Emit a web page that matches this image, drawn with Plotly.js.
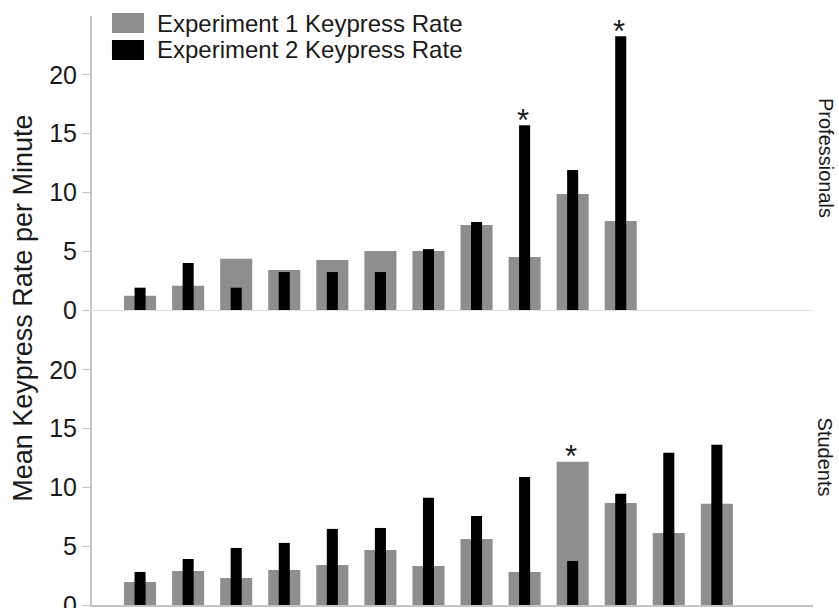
<!DOCTYPE html>
<html>
<head>
<meta charset="utf-8">
<script src="https://cdn.plot.ly/plotly-3.0.1.min.js"></script>
<style>
  html, body { margin: 0; padding: 0; background: #ffffff; }
  #chart { width: 839px; height: 608px; }
</style>
</head>
<body>
<div id="chart"></div>
<script>
// Unlabelled participant groups along the x axis
const groups = [1, 2, 3, 4, 5, 6, 7, 8, 9, 10, 11, 12, 13];

// Series names
const seriesNames = ['Experiment 1 Keypress Rate', 'Experiment 2 Keypress Rate'];
const panelNames = ['Professionals', 'Students'];

// Professionals: mean keypress rate per minute
const proExp1 = [1.22, 2.07, 4.36, 3.40, 4.25, 5.01, 5.01, 7.22, 4.50, 9.86, 7.56];
const proExp2 = [1.90, 4.00, 1.90, 3.23, 3.23, 3.23, 5.18, 7.48, 15.72, 11.90, 23.28];

// Students: mean keypress rate per minute
const stuExp1 = [1.96, 2.89, 2.30, 2.98, 3.40, 4.68, 3.32, 5.62, 2.81, 12.17, 8.68, 6.13, 8.60];
const stuExp2 = [2.81, 3.91, 4.85, 5.28, 6.47, 6.55, 9.11, 7.57, 10.89, 3.74, 9.45, 12.94, 13.62];

// Groups marked as significant (asterisk)
const proStarred = [9, 11];
const stuStarred = [10];

// Y axis ticks
const yTicks = [0, 5, 10, 15, 20];

const FONT = 'Liberation Sans, Arial, Helvetica, sans-serif';
const TEXT = '#1a1a1a';
const GRAY = '#8e8e8e';
const BLACK = '#000000';

const proX = groups.slice(0, proExp1.length);
const stuX = groups.slice(0, stuExp1.length);

const traces = [
  { type: 'bar', x: stuX, y: stuExp1, xaxis: 'x', yaxis: 'y', width: 0.667,
    marker: { color: GRAY }, name: seriesNames[0], showlegend: false },
  { type: 'bar', x: stuX, y: stuExp2, xaxis: 'x', yaxis: 'y', width: 0.23,
    marker: { color: BLACK }, name: seriesNames[1], showlegend: false },
  { type: 'bar', x: proX, y: proExp1, xaxis: 'x2', yaxis: 'y2', width: 0.667,
    marker: { color: GRAY }, name: seriesNames[0], showlegend: false },
  { type: 'bar', x: proX, y: proExp2, xaxis: 'x2', yaxis: 'y2', width: 0.23,
    marker: { color: BLACK }, name: seriesNames[1], showlegend: false }
];

function starNotes(starred, a, b, xref, yref) {
  return starred.map(g => ({
    x: g, y: Math.max(a[g - 1], b[g - 1]), xref: xref, yref: yref,
    text: '*', showarrow: false, yanchor: 'middle', yshift: 5, xshift: -2,
    font: { family: FONT, size: 31, color: TEXT }
  }));
}

const yAxisCommon = {
  range: [0, 25], tickvals: yTicks, ticktext: yTicks.map(String),
  ticks: 'outside', ticklen: 8, tickwidth: 1, tickcolor: '#c4c4c4',
  showline: true, linecolor: '#c4c4c4', linewidth: 2,
  showgrid: false, zeroline: false, ticklabeloverflow: 'allow',
  tickfont: { family: FONT, size: 25, color: TEXT }
};

const xAxisCommon = {
  range: [0, 15], showticklabels: false, ticks: '',
  showgrid: false, zeroline: false, showline: true
};

// Legend swatches and labels (paper coordinates)
const legendShapes = [
  { type: 'rect', xref: 'paper', yref: 'paper', x0: 0.0277, x1: 0.0721, y0: 0.9711, y1: 1.0051,
    fillcolor: GRAY, line: { width: 0 } },
  { type: 'rect', xref: 'paper', yref: 'paper', x0: 0.0277, x1: 0.0721, y0: 0.9253, y1: 0.9593,
    fillcolor: BLACK, line: { width: 0 } }
];
const legendNotes = seriesNames.map((n, i) => ({
  text: n, xref: 'paper', yref: 'paper', x: 0.0874, y: i === 0 ? 0.9881 : 0.9423,
  xanchor: 'left', yanchor: 'middle', showarrow: false,
  font: { family: FONT, size: 24, color: TEXT }
}));

const layout = {
  width: 839, height: 608,
  margin: { l: 92, r: 26, t: 16, b: 3 },
  paper_bgcolor: '#ffffff', plot_bgcolor: '#ffffff',
  barmode: 'overlay', showlegend: false,
  font: { family: FONT, color: TEXT },
  xaxis: Object.assign({}, xAxisCommon, { anchor: 'y', linecolor: '#c4c4c4', linewidth: 2 }),
  yaxis: Object.assign({}, yAxisCommon, { domain: [0, 0.4992], anchor: 'x' }),
  xaxis2: Object.assign({}, xAxisCommon, { anchor: 'y2', linecolor: '#e2e2e2', linewidth: 1 }),
  yaxis2: Object.assign({}, yAxisCommon, { domain: [0.5008, 1], anchor: 'x2' }),
  shapes: legendShapes,
  annotations: [].concat(
    starNotes(proStarred, proExp1, proExp2, 'x2', 'y2'),
    starNotes(stuStarred, stuExp1, stuExp2, 'x', 'y'),
    legendNotes,
    [
      { text: 'Mean Keypress Rate per Minute', xref: 'paper', yref: 'paper',
        x: -0.0957, y: 0.503, textangle: -90, showarrow: false,
        xanchor: 'center', yanchor: 'middle',
        font: { family: FONT, size: 27, color: TEXT } },
      { text: panelNames[0], xref: 'paper', yref: 'paper', x: 1.018, y: 0.759,
        textangle: 90, showarrow: false, xanchor: 'center', yanchor: 'middle',
        font: { family: FONT, size: 20, color: TEXT } },
      { text: panelNames[1], xref: 'paper', yref: 'paper', x: 1.018, y: 0.2504,
        textangle: 90, showarrow: false, xanchor: 'center', yanchor: 'middle',
        font: { family: FONT, size: 20, color: TEXT } }
    ]
  )
};

Plotly.newPlot('chart', traces, layout, { staticPlot: true, displayModeBar: false });
</script>
</body>
</html>
